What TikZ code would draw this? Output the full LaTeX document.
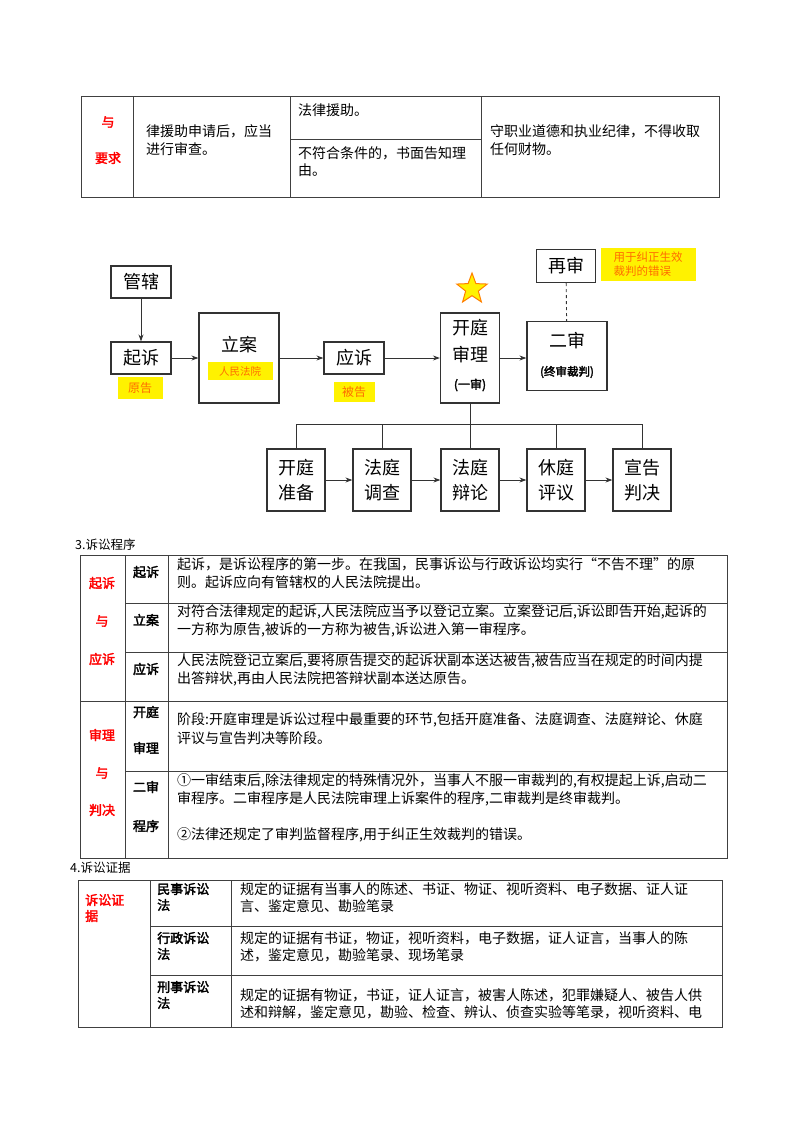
\documentclass[tikz,border=0pt]{standalone}
\usepackage{fontspec}
\setmainfont{Noto Sans CJK SC}[AutoFakeBold=2.5]
\usetikzlibrary{arrows.meta,shapes.geometric}
\tikzset{
 tl/.style={anchor=west,inner sep=0pt,font=\fontsize{14}{16}\selectfont},
 lab/.style={inner sep=0pt,font=\fontsize{13}{15}\selectfont\bfseries},
 rlab/.style={lab,text=red},
 grid/.style={draw=black!75,line width=0.9pt},
 bx/.style={draw=black!80,line width=1.2pt,fill=white},
 big/.style={font=\fontsize{18}{21}\selectfont},
 hl/.style={fill=yellow,text=orange!85!red,inner sep=0pt,font=\fontsize{12}{14}\selectfont},
 ar/.style={-{Stealth[length=7pt,width=5pt]},line width=0.9pt,black!80},
 ln/.style={line width=0.9pt,black!80}
}
\begin{document}
\begin{tikzpicture}[x=1pt,y=-1pt]
\useasboundingbox (0,0) rectangle (800,1132);
\fill[white] (0,0) rectangle (800,1132);
% ---------- top table
\draw[grid] (81,96) rectangle (719,197);
\draw[grid] (133,96)--(133,197) (290,96)--(290,197) (481,96)--(481,197) (290,139)--(481,139);
\node[rlab] (t1a) at (108,122) {与};
\node[rlab] (t1b) at (108,158) {要求};
\node[tl] (t2a) at (146,131) {律援助申请后，应当};
\node[tl] (t2b) at (146,149) {进行审查。};
\node[tl] (t3a) at (298,110) {法律援助。};
\node[tl] (t3b) at (298,153) {不符合条件的，书面告知理};
\node[tl] (t3c) at (298,170) {由。};
\node[tl] (t4a) at (490,131) {守职业道德和执业纪律，不得收取};
\node[tl] (t4b) at (490,149) {任何财物。};
% ---------- diagram
\node[bx,big,minimum width=60,minimum height=32] (gx) at (141,282) {管辖};
\node[bx,big,minimum width=60,minimum height=32] (qs) at (141,358) {起诉};
\node[hl,minimum width=45,minimum height=22] (yg) at (140,388) {原告};
\node[bx,minimum width=80,minimum height=90] (la) at (239,358) {};
\node[big] (latx) at (239,345) {立案};
\node[hl,minimum width=65,minimum height=18,font=\fontsize{10.5}{12}\selectfont] (rmfy) at (240,371) {人民法院};
\node[bx,big,minimum width=60,minimum height=32] (ys) at (354,358) {应诉};
\node[hl,minimum width=41,minimum height=20] (bg) at (354,392) {被告};
\node[bx,minimum width=59,minimum height=90] (kt) at (470,358) {};
\node[big] (kt1) at (470,328) {开庭};
\node[big] (kt2) at (470,355) {审理};
\node[font=\fontsize{12}{14}\selectfont\bfseries] (kt3) at (470,385) {(一审)};
\node[star,star points=5,star point ratio=2.4,fill=yellow,draw=orange,line width=1pt,minimum size=32,inner sep=0] (st) at (472,289) {};
\node[bx,minimum width=80,minimum height=69] (es) at (567,356) {};
\node[big] (es1) at (567,341) {二审};
\node[font=\fontsize{11.5}{14}\selectfont\bfseries] (es2) at (567,372) {(终审裁判)};
\node[bx,big,minimum width=59,minimum height=33] (zs) at (566,266) {再审};
\node[hl,minimum width=95,minimum height=33,align=left,font=\fontsize{11.5}{14}\selectfont] (yy) at (648,264) {用于纠正生效\\裁判的错误};
\draw[ar] (gx)--(qs);
\draw[ar] (qs)--(la);
\draw[ar] (la)--(ys);
\draw[ar] (ys)--(kt);
\draw[ar] (kt.east)--(es.west |- kt.east);
\draw[ln,dashed] (zs)--(es);
\foreach \n/\x/\a/\b in {p1/296/开庭/准备,p2/382/法庭/调查,p3/470/法庭/辩论,p4/556/休庭/评议,p5/642/宣告/判决}{
  \node[bx,minimum width=58,minimum height=62,inner sep=1pt,align=center,font=\fontsize{18}{25}\selectfont] (\n) at (\x,480) {\a\\\b};
}
\coordinate (bl) at (296,424);
\coordinate (br) at (642,424);
\draw[ln] (bl)--(br);
\draw[ln] (kt.south)--(p3.north);
\foreach \n/\x in {p1/296,p2/382,p4/556,p5/642}{\draw[ln] (\x,424)--(\n.north);}
\draw[ar] (p1)--(p2);
\draw[ar] (p2)--(p3);
\draw[ar] (p3)--(p4);
\draw[ar] (p4)--(p5);
% ---------- table 3
\node[anchor=west,inner sep=0pt,font=\fontsize{12.5}{14}\selectfont] (h3) at (75,545) {3.诉讼程序};
\draw[grid] (80,555) rectangle (727,858);
\draw[grid] (125,555)--(125,858) (168,555)--(168,858);
\draw[grid] (125,603)--(727,603) (125,652)--(727,652) (80,701)--(727,701) (125,771)--(727,771);
\node[rlab] (a1) at (102,583) {起诉};
\node[rlab] (a2) at (102,621) {与};
\node[rlab] (a3) at (102,659) {应诉};
\node[lab] (b1) at (146,572) {起诉};
\node[lab] (b2) at (146,620) {立案};
\node[lab] (b3) at (146,669) {应诉};
\node[tl] (c1a) at (177,564) {起诉，是诉讼程序的第一步。在我国，民事诉讼与行政诉讼均实行“不告不理”的原};
\node[tl] (c1b) at (177,582) {则。起诉应向有管辖权的人民法院提出。};
\node[tl] (c2a) at (177,612) {对符合法律规定的起诉,人民法院应当予以登记立案。立案登记后,诉讼即告开始,起诉的};
\node[tl] (c2b) at (177,630) {一方称为原告,被诉的一方称为被告,诉讼进入第一审程序。};
\node[tl] (c3a) at (177,661) {人民法院登记立案后,要将原告提交的起诉状副本送达被告,被告应当在规定的时间内提};
\node[tl] (c3b) at (177,679) {出答辩状,再由人民法院把答辩状副本送达原告。};
\node[rlab] (d1) at (102,735) {审理};
\node[rlab] (d2) at (102,773) {与};
\node[rlab] (d3) at (102,810) {判决};
\node[lab] (e1) at (146,712) {开庭};
\node[lab] (e2) at (146,748) {审理};
\node[lab] (e3) at (146,787) {二审};
\node[lab] (e4) at (146,826) {程序};
\node[tl] (f1a) at (177,720) {阶段:开庭审理是诉讼过程中最重要的环节,包括开庭准备、法庭调查、法庭辩论、休庭};
\node[tl] (f1b) at (177,738) {评议与宣告判决等阶段。};
\node[tl] (f2a) at (177,781) {①一审结束后,除法律规定的特殊情况外，当事人不服一审裁判的,有权提起上诉,启动二};
\node[tl] (f2b) at (177,799) {审程序。二审程序是人民法院审理上诉案件的程序,二审裁判是终审裁判。};
\node[tl] (f2c) at (177,835) {②法律还规定了审判监督程序,用于纠正生效裁判的错误。};
% ---------- table 4
\node[anchor=west,inner sep=0pt,font=\fontsize{12.5}{14}\selectfont] (h4) at (70,868) {4.诉讼证据};
\draw[grid] (78,880) rectangle (722,1027);
\draw[grid] (150,880)--(150,1027) (231,880)--(231,1027);
\draw[grid] (150,926)--(722,926) (150,975)--(722,975);
\node[rlab,anchor=west] (g1) at (85,900) {诉讼证};
\node[rlab,anchor=west] (g2) at (85,916) {据};
\node[lab,anchor=west] (h1a) at (157,889) {民事诉讼};
\node[lab,anchor=west] (h1b) at (157,905) {法};
\node[lab,anchor=west] (h2a) at (157,938) {行政诉讼};
\node[lab,anchor=west] (h2b) at (157,954) {法};
\node[lab,anchor=west] (h3a) at (157,987) {刑事诉讼};
\node[lab,anchor=west] (h3b) at (157,1003) {法};
\node[tl] (i1a) at (240,889) {规定的证据有当事人的陈述、书证、物证、视听资料、电子数据、证人证};
\node[tl] (i1b) at (240,906) {言、鉴定意见、勘验笔录};
\node[tl] (i2a) at (240,938) {规定的证据有书证，物证，视听资料，电子数据，证人证言，当事人的陈};
\node[tl] (i2b) at (240,955) {述，鉴定意见，勘验笔录、现场笔录};
\node[tl] (i3a) at (240,995) {规定的证据有物证，书证，证人证言，被害人陈述，犯罪嫌疑人、被告人供};
\node[tl] (i3b) at (240,1012) {述和辩解，鉴定意见，勘验、检查、辨认、侦查实验等笔录，视听资料、电};
\end{tikzpicture}
\end{document}
